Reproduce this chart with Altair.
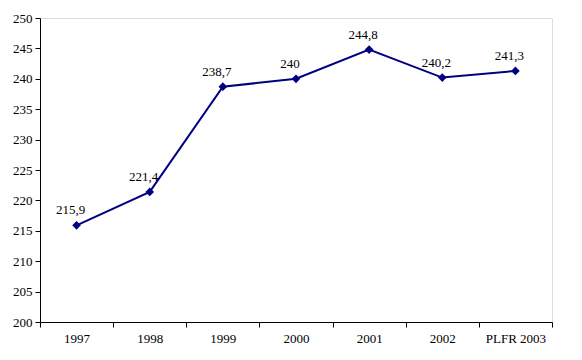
import altair as alt
import pandas as pd

years = ["1997", "1998", "1999", "2000", "2001", "2002", "PLFR 2003"]
values = [215.9, 221.4, 238.7, 240.0, 244.8, 240.2, 241.3]
labels = ["215,9", "221,4", "238,7", "240", "244,8", "240,2", "241,3"]

df = pd.DataFrame({"year": years, "value": values, "label": labels})

FONT = "Liberation Serif"
NAVY = "#000080"

x = alt.X("year:N", sort=years, title=None,
          scale=alt.Scale(paddingInner=0, paddingOuter=0),
          axis=alt.Axis(labelAngle=0, tickBand="extent", grid=False,
                        domainColor="black", tickColor="black", tickSize=5,
                        labelFont=FONT, labelFontSize=13, labelColor="black",
                        labelPadding=5))
y = alt.Y("value:Q", title=None,
          scale=alt.Scale(domain=[200, 250], nice=False, zero=False),
          axis=alt.Axis(values=list(range(200, 251, 5)), grid=False,
                        domainColor="black", tickColor="black", tickSize=5,
                        labelFont=FONT, labelFontSize=13, labelColor="black",
                        labelPadding=3))

base = alt.Chart(df).encode(x=x, y=y)

line = base.mark_line(color=NAVY, strokeWidth=2)
pts = base.mark_point(shape="diamond", filled=True, color=NAVY, size=75, opacity=1)
txt = base.mark_text(dy=-15, dx=-6, font=FONT, fontSize=13, color="black").encode(text="label:N")

chart = (line + pts + txt).properties(
    width=512, height=304,
    autosize=alt.AutoSizeParams(type="none"),
    padding={"left": 40, "top": 18, "right": 30, "bottom": 38},
).configure_view(stroke=None).configure(background="white")

chart.save("out.html", embed_options={"renderer": "svg", "actions": False})
